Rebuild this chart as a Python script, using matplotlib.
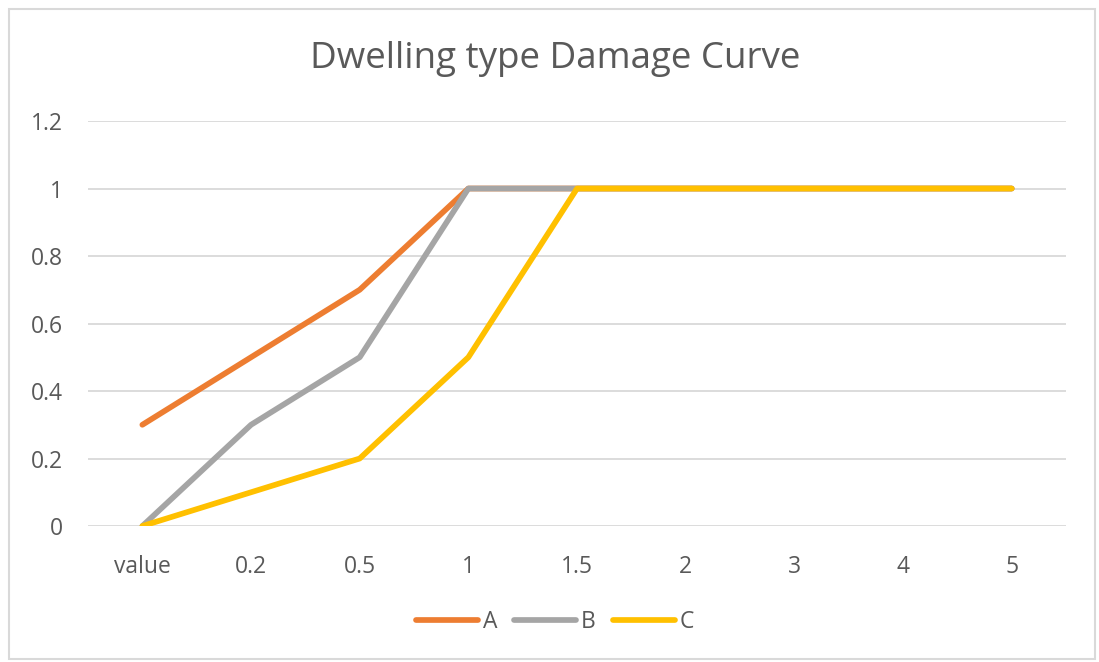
import matplotlib.pyplot as plt
from matplotlib.patches import Rectangle

categories = ['value', '0.2', '0.5', '1', '1.5', '2', '3', '4', '5']
series_a = [0.3, 0.5, 0.7, 1, 1, 1, 1, 1, 1]
series_b = [0, 0.3, 0.5, 1, 1, 1, 1, 1, 1]
series_c = [0, 0.1, 0.2, 0.5, 1, 1, 1, 1, 1]

labels = ['A', 'B', 'C']
colors = ['#ED7D31', '#A5A5A5', '#FFC000']
text_col = '#595959'

plt.rcParams['font.family'] = ['Open Sans', 'DejaVu Sans']

fig = plt.figure(figsize=(10.99, 6.62), dpi=100)
# chart area outline
fig.patches.append(Rectangle((0.008, 0.004), 0.988, 0.983, transform=fig.transFigure,
                             fill=False, edgecolor='#d9d9d9', lw=1.5))

ax = fig.add_axes([0.0801, 0.2054, 0.8899, 0.6118])
x = range(len(categories))
for ys, lab, c in zip([series_a, series_b, series_c], labels, colors):
    ax.plot(x, ys, color=c, lw=4.1, label=lab, solid_capstyle='round',
            solid_joinstyle='round', zorder=3)

ax.set_xlim(-0.5, len(categories) - 0.5)
ax.set_ylim(0, 1.2)
ax.set_yticks([0, 0.2, 0.4, 0.6, 0.8, 1, 1.2])
ax.set_yticklabels(['0', '0.2', '0.4', '0.6', '0.8', '1', '1.2'])
ax.set_xticks(list(x))
ax.set_xticklabels(categories)
ax.grid(axis='y', color='#d9d9d9', lw=1.3)
ax.set_axisbelow(True)
for s in ax.spines.values():
    s.set_visible(False)
ax.tick_params(length=0, colors=text_col, labelsize=16.5)
ax.tick_params(axis='y', pad=18)
ax.tick_params(axis='x', pad=21)

fig.text(0.505, 0.897, 'Dwelling type Damage Curve', ha='center', va='baseline',
         fontsize=26.5, color=text_col)

fig.legend(loc='center', bbox_to_anchor=(0.505, 0.06), ncol=3, frameon=False,
           fontsize=16.5, labelcolor=text_col, handlelength=2.7, handletextpad=0.2,
           columnspacing=0.75)

fig.savefig('out.png', dpi=100)
